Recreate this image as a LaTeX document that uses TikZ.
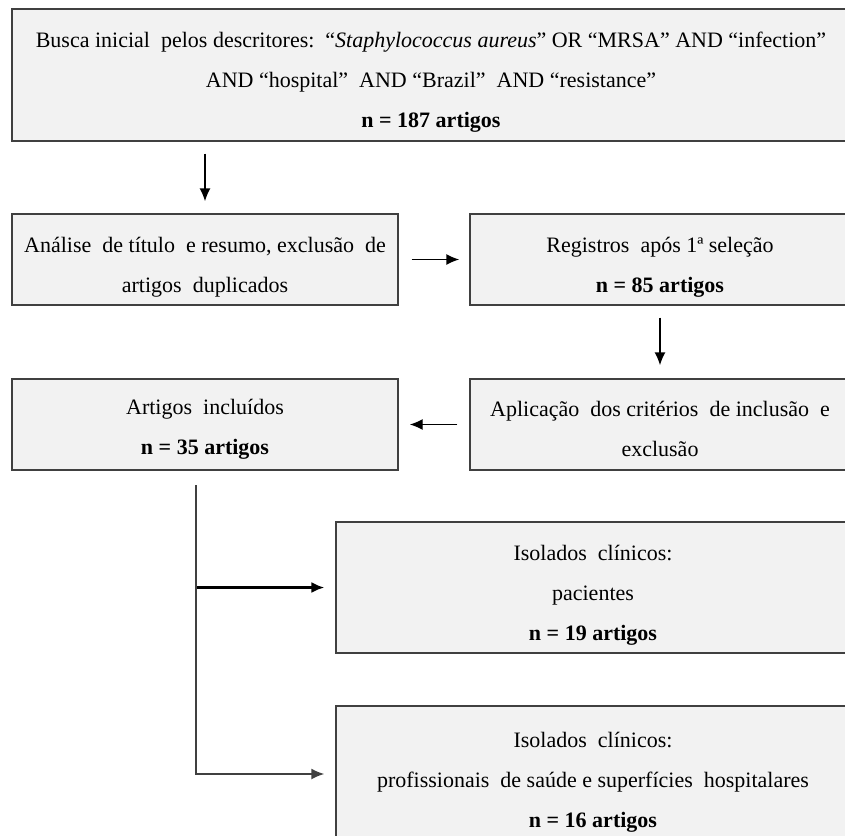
\documentclass[tikz,border=0pt]{standalone}
\usepackage{fontspec}
\setmainfont{Liberation Serif}
\usetikzlibrary{arrows.meta}
\definecolor{boxfill}{HTML}{F2F2F2}
\definecolor{boxline}{HTML}{404040}
\newcommand{\tstrut}{\rule{0pt}{30pt}}
\newcommand{\sstrut}{\rule{0pt}{25pt}}
\tikzset{
  flowbox/.style={draw=boxline, line width=1.4pt, fill=boxfill, inner sep=0pt,
    align=center, font=\fontsize{22}{40}\selectfont, text=black},
  arr/.style={draw=black, line width=1.4pt, -{Latex[length=13pt,width=11pt]}},
}
\begin{document}
\begin{tikzpicture}[x=1pt,y=-1pt]
\useasboundingbox (0,0) rectangle (845,835);
\node[flowbox, minimum width=838pt, minimum height=132pt] (b1) at (431,75)
  {\tstrut Busca inicial\ \ pelos descritores:\ \ “\textit{Staphylococcus aureus}” OR “MRSA” AND “infection”\\
   AND “hospital”\ \ AND “Brazil”\ \ AND “resistance”\\
   \textbf{n = 187 artigos}};
\node[flowbox, minimum width=386pt, minimum height=91pt] (b2) at (205,259.5)
  {\tstrut Análise\ \ de título\ \ e resumo,\ exclusão\ \ de\\ artigos\ \ duplicados};
\node[flowbox, minimum width=380pt, minimum height=91pt] (b3) at (660,259.5)
  {\tstrut Registros\ \ após 1ª seleção\\ \textbf{n = 85 artigos}};
\node[flowbox, minimum width=386pt, minimum height=91pt] (b4) at (205,424.5)
  {\sstrut Artigos\ \ incluídos\\ \textbf{n = 35 artigos}};
\node[flowbox, minimum width=380pt, minimum height=91pt] (b5) at (660,424.5)
  {\sstrut Aplicação\ \ dos critérios\ \ de inclusão\ \ e\\ exclusão};
\node[flowbox, minimum width=514pt, minimum height=131pt] (b6) at (593,587.5)
  {\tstrut Isolados\ \ clínicos:\\ pacientes\\ \textbf{n = 19 artigos}};
\node[flowbox, minimum width=514pt, minimum height=142pt] (b7) at (593,777)
  {\sstrut Isolados\ \ clínicos:\\ profissionais\ \ de saúde e superfícies\ \ hospitalares\\ \textbf{n = 16 artigos}};
\coordinate (split) at (196,485);
\draw[arr] ([yshift=-12pt]b1.south -| b2.north) -- ([yshift=12pt]b2.north);
\draw[arr, shorten <=13pt, shorten >=10pt] (b2.east) -- (b3.west);
\draw[arr, shorten <=12pt, shorten >=13pt] (b3.south) -- (b5.north);
\draw[arr, shorten <=12pt, shorten >=11pt] (b5.west) -- (b4.east);
\draw[arr, line width=2.2pt, shorten >=11pt] (split) |- (b6.west);
\draw[arr, draw=boxline, line width=1.6pt, shorten >=11pt] (split) |- ([yshift=3pt]b7.west);
\end{tikzpicture}
\end{document}
